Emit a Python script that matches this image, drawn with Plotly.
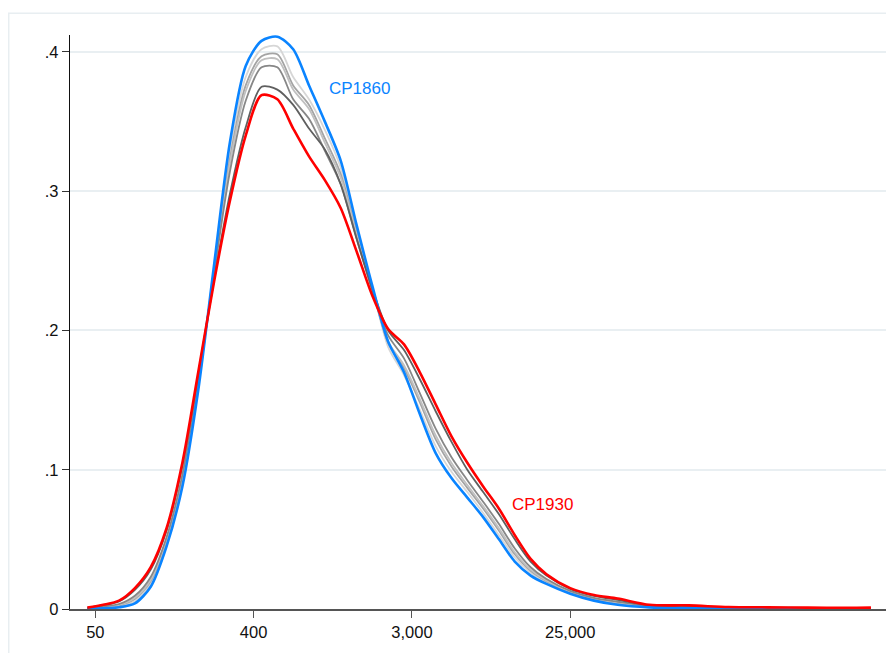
import plotly.graph_objects as go

# log income grid (natural log)
ln_x = [3.9, 4.1, 4.3, 4.5, 4.7, 4.9, 5.1, 5.3, 5.5, 5.7, 5.9, 6.1, 6.3, 6.5, 6.7, 6.9,
        7.1, 7.3, 7.5, 7.7, 7.9, 8.1, 8.3, 8.5, 8.7, 8.9, 9.1, 9.3, 9.5, 9.7, 10.0,
        10.3, 10.6, 11.0, 11.5, 12.0, 12.5, 13.0, 13.5, 13.8]

cp1860 = [0.0002, 0.0005, 0.0012, 0.004, 0.016, 0.045, 0.088, 0.157, 0.247, 0.335,
          0.39, 0.408, 0.411, 0.402, 0.376, 0.35, 0.322, 0.276, 0.232, 0.192,
          0.17, 0.14, 0.112, 0.094, 0.08, 0.066, 0.05, 0.034, 0.024, 0.018,
          0.011, 0.006, 0.003, 0.0012, 0.0006, 0.0004, 0.0003, 0.0002, 0.0001, 0.0]
cp1870 = [0.0003, 0.0009, 0.0019, 0.0056, 0.018, 0.047, 0.0905, 0.159, 0.245, 0.329,
          0.382, 0.402, 0.404, 0.382, 0.366, 0.344, 0.317, 0.273, 0.231, 0.188,
          0.168, 0.143, 0.117, 0.0985, 0.084, 0.069, 0.053, 0.037, 0.026, 0.019,
          0.0116, 0.0066, 0.0037, 0.0015, 0.0009, 0.0006, 0.0004, 0.0003, 0.0002, 0.0001]
cp1880 = [0.0004, 0.0012, 0.0025, 0.0071, 0.0199, 0.0486, 0.0928, 0.1606, 0.2436, 0.323,
          0.376, 0.397, 0.3984, 0.376, 0.362, 0.338, 0.3125, 0.2707, 0.23, 0.191,
          0.173, 0.1484, 0.1218, 0.1024, 0.087, 0.0722, 0.0562, 0.0393, 0.0274, 0.02,
          0.0121, 0.0071, 0.0043, 0.0017, 0.0012, 0.0007, 0.0005, 0.0004, 0.0003, 0.0002]
cp1900 = [0.0005, 0.0014, 0.0029, 0.008, 0.021, 0.0497, 0.0941, 0.1617, 0.2427, 0.3199,
          0.372, 0.394, 0.3948, 0.373, 0.359, 0.3349, 0.3098, 0.2692, 0.2295, 0.192,
          0.175, 0.1508, 0.1246, 0.1048, 0.089, 0.0739, 0.0579, 0.0408, 0.0283, 0.0205,
          0.0124, 0.0074, 0.0046, 0.0018, 0.0013, 0.0008, 0.0006, 0.0005, 0.0003, 0.0002]
cp1910 = [0.0006, 0.0018, 0.0036, 0.0095, 0.023, 0.0515, 0.0965, 0.1635, 0.241, 0.314,
          0.365, 0.389, 0.389, 0.366, 0.352, 0.329, 0.305, 0.2665, 0.2285, 0.1965,
          0.18, 0.155, 0.1295, 0.109, 0.0925, 0.077, 0.061, 0.0435, 0.03, 0.0215,
          0.013, 0.008, 0.0052, 0.0021, 0.0016, 0.0009, 0.0007, 0.0006, 0.0004, 0.0003]
cp1920 = [0.0009, 0.0027, 0.0054, 0.0137, 0.0283, 0.0564, 0.103, 0.1684, 0.2364, 0.298,
          0.346, 0.375, 0.373, 0.362, 0.345, 0.33, 0.305, 0.266, 0.23, 0.2,
          0.186, 0.165, 0.142, 0.12, 0.1, 0.084, 0.068, 0.05, 0.034, 0.024,
          0.0145, 0.0095, 0.0065, 0.0027, 0.0022, 0.0012, 0.001, 0.0008, 0.0006, 0.0006]
cp1930 = [0.001, 0.003, 0.006, 0.015, 0.03, 0.058, 0.105, 0.17, 0.235, 0.293,
          0.34, 0.369, 0.366, 0.345, 0.325, 0.308, 0.288, 0.257, 0.225, 0.201,
          0.19, 0.17, 0.147, 0.124, 0.105, 0.088, 0.072, 0.053, 0.036, 0.025,
          0.015, 0.01, 0.0075, 0.003, 0.0026, 0.0014, 0.0012, 0.001, 0.0008, 0.001]

x_tickvals = [4, 6, 8, 10]
x_ticktext = ["50", "400", "3,000", "25,000"]
y_tickvals = [0, 0.1, 0.2, 0.3, 0.4]
y_ticktext = ["0", ".1", ".2", ".3", ".4"]

gray_series = [
    ("CP1870", cp1870, "#d6d6d6"),
    ("CP1880", cp1880, "#a4a4a4"),
    ("CP1900", cp1900, "#c0c0c0"),
    ("CP1910", cp1910, "#878787"),
    ("CP1920", cp1920, "#5f5f5f"),
]

FONT = "Liberation Sans, Arial, Helvetica, sans-serif"

fig = go.Figure()
for name, ys, col in gray_series:
    fig.add_trace(go.Scatter(x=ln_x, y=ys, mode="lines", name=name,
                             line=dict(color=col, width=1.8, shape="spline", smoothing=0.8)))
fig.add_trace(go.Scatter(x=ln_x, y=cp1860, mode="lines", name="CP1860",
                         line=dict(color="#0a84ff", width=2.6, shape="spline", smoothing=0.8)))
fig.add_trace(go.Scatter(x=ln_x, y=cp1930, mode="lines", name="CP1930",
                         line=dict(color="#ff0000", width=2.6, shape="spline", smoothing=0.8)))

fig.add_annotation(x=6.93, y=0.374, text="CP1860", showarrow=False, xanchor="left",
                   font=dict(color="#0a84ff", size=17, family=FONT))
fig.add_annotation(x=9.24, y=0.0754, text="CP1930", showarrow=False, xanchor="left",
                   font=dict(color="#ff0000", size=17, family=FONT))

# outer graph-region frame
fig.add_shape(type="rect", xref="paper", yref="paper", x0=-0.0751, x1=1.03, y0=-0.12, y1=1.038,
              line=dict(color="#e8eef1", width=1.5), fillcolor="rgba(0,0,0,0)", layer="below")

# page body has an 8px margin, so the figure is sized to fit inside it
fig.update_layout(
    width=878, height=645,
    margin=dict(l=62, r=0, t=27, b=44),
    paper_bgcolor="white", plot_bgcolor="white",
    showlegend=False,
    font=dict(family=FONT, size=16.5, color="#111111"),
)
fig.update_xaxes(range=[3.68, 13.99], tickvals=x_tickvals, ticktext=x_ticktext,
                 showgrid=False, zeroline=False, showline=True, linecolor="#555555", linewidth=2,
                 ticks="outside", ticklen=7, tickcolor="#555555", tickwidth=1.3)
fig.update_yaxes(range=[0, 0.4122], tickvals=y_tickvals, ticktext=y_ticktext,
                 showgrid=True, gridcolor="#e9eff2", gridwidth=1.5, zeroline=False,
                 showline=True, linecolor="#111111", linewidth=1.3,
                 ticks="outside", ticklen=7, tickcolor="#333333", tickwidth=1.3)

fig.write_html("out.html")
